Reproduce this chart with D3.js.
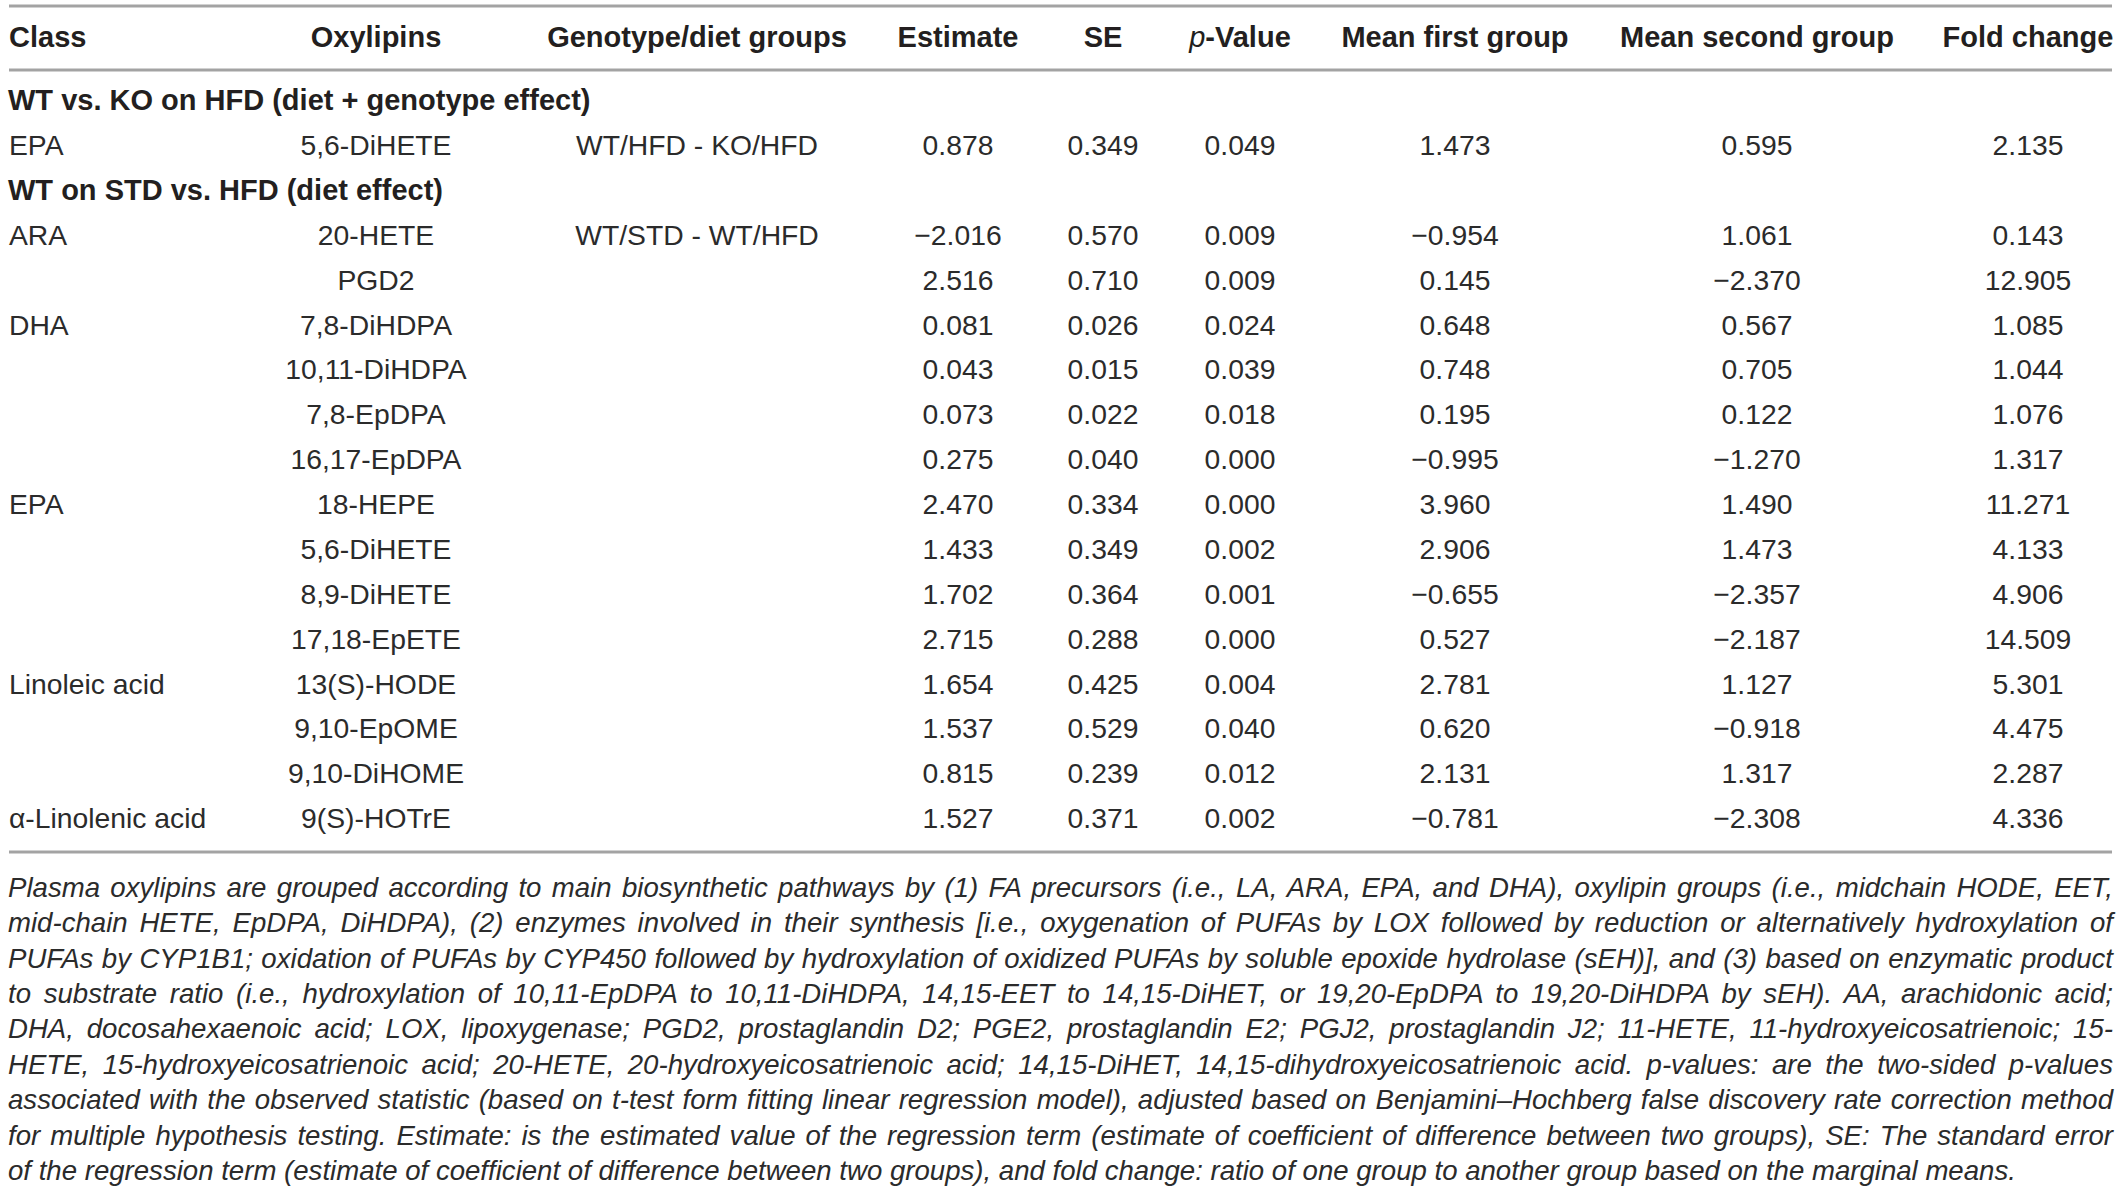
<!DOCTYPE html>
<html>
<head>
<meta charset="utf-8">
<script src="https://cdn.jsdelivr.net/npm/d3@7/dist/d3.min.js"></script>
<style>
  body { margin: 0; background: #fff; }
  text { font-family: "Liberation Sans", Arial, Helvetica, sans-serif; fill: #231f20; }
</style>
</head>
<body>
<div id="chart"></div>
<script>
const WIDTH = 2124;
const HEIGHT = 1196;

// Table content.
const headers = ["Class", "Oxylipins", "Genotype/diet groups", "Estimate", "SE", "p-Value",
                 "Mean first group", "Mean second group", "Fold change"];
const sectionTitles = ["WT vs. KO on HFD (diet + genotype effect)", "WT on STD vs. HFD (diet effect)"];
const sectionOf = [0, 1, 1, 1, 1, 1, 1, 1, 1, 1, 1, 1, 1, 1, 1];
const classes = ["EPA", "ARA", "", "DHA", "", "", "", "EPA", "", "", "", "Linoleic acid", "", "", "α-Linolenic acid"];
const oxylipins = ["5,6-DiHETE", "20-HETE", "PGD2", "7,8-DiHDPA", "10,11-DiHDPA", "7,8-EpDPA", "16,17-EpDPA",
                   "18-HEPE", "5,6-DiHETE", "8,9-DiHETE", "17,18-EpETE", "13(S)-HODE", "9,10-EpOME",
                   "9,10-DiHOME", "9(S)-HOTrE"];
const groups = ["WT/HFD - KO/HFD", "WT/STD - WT/HFD", "", "", "", "", "", "", "", "", "", "", "", "", ""];
const estimates = [0.878, -2.016, 2.516, 0.081, 0.043, 0.073, 0.275, 2.470, 1.433, 1.702, 2.715, 1.654, 1.537, 0.815, 1.527];
const stdErrors = [0.349, 0.570, 0.710, 0.026, 0.015, 0.022, 0.040, 0.334, 0.349, 0.364, 0.288, 0.425, 0.529, 0.239, 0.371];
const pValues = [0.049, 0.009, 0.009, 0.024, 0.039, 0.018, 0.000, 0.000, 0.002, 0.001, 0.000, 0.004, 0.040, 0.012, 0.002];
const meanFirst = [1.473, -0.954, 0.145, 0.648, 0.748, 0.195, -0.995, 3.960, 2.906, -0.655, 0.527, 2.781, 0.620, 2.131, -0.781];
const meanSecond = [0.595, 1.061, -2.370, 0.567, 0.705, 0.122, -1.270, 1.490, 1.473, -2.357, -2.187, 1.127, -0.918, 1.317, -2.308];
const foldChange = [2.135, 0.143, 12.905, 1.085, 1.044, 1.076, 1.317, 11.271, 4.133, 4.906, 14.509, 5.301, 4.475, 2.287, 4.336];

const footnoteLines = [
  "Plasma oxylipins are grouped according to main biosynthetic pathways by (1) FA precursors (i.e., LA, ARA, EPA, and DHA), oxylipin groups (i.e., midchain HODE, EET,",
  "mid-chain HETE, EpDPA, DiHDPA), (2) enzymes involved in their synthesis [i.e., oxygenation of PUFAs by LOX followed by reduction or alternatively hydroxylation of",
  "PUFAs by CYP1B1; oxidation of PUFAs by CYP450 followed by hydroxylation of oxidized PUFAs by soluble epoxide hydrolase (sEH)], and (3) based on enzymatic product",
  "to substrate ratio (i.e., hydroxylation of 10,11-EpDPA to 10,11-DiHDPA, 14,15-EET to 14,15-DiHET, or 19,20-EpDPA to 19,20-DiHDPA by sEH). AA, arachidonic acid;",
  "DHA, docosahexaenoic acid; LOX, lipoxygenase; PGD2, prostaglandin D2; PGE2, prostaglandin E2; PGJ2, prostaglandin J2; 11-HETE, 11-hydroxyeicosatrienoic; 15-",
  "HETE, 15-hydroxyeicosatrienoic acid; 20-HETE, 20-hydroxyeicosatrienoic acid; 14,15-DiHET, 14,15-dihydroxyeicosatrienoic acid. p-values: are the two-sided p-values",
  "associated with the observed statistic (based on t-test form fitting linear regression model), adjusted based on Benjamini–Hochberg false discovery rate correction method",
  "for multiple hypothesis testing. Estimate: is the estimated value of the regression term (estimate of coefficient of difference between two groups), SE: The standard error",
  "of the regression term (estimate of coefficient of difference between two groups), and fold change: ratio of one group to another group based on the marginal means."
];

// Layout.
const LEFT = 9, RIGHT = 2112;
const COL_X = [LEFT, 376, 697, 958, 1103, 1240, 1455, 1757, 2028];
const HEADER_Y = 37;
const LINES_Y = [6, 70, 852];
const BODY_SIZE = 28.3, HEAD_SIZE = 29, NOTE_SIZE = 27.6;

const fmt = v => d3.format(".3f")(v).replace("-", "\u2013");

// Build display rows: section titles interleaved with data rows.
var rows = [];
sectionOf.forEach(function (s, i) {
  if (i === 0 || sectionOf[i - 1] !== s) rows.push({type: "section", title: sectionTitles[s]});
  rows.push({type: "data", cells: [classes[i], oxylipins[i], groups[i], fmt(estimates[i]), fmt(stdErrors[i]),
                                   fmt(pValues[i]), fmt(meanFirst[i]), fmt(meanSecond[i]), fmt(foldChange[i])]});
});

var y = d3.scaleLinear().domain([0, rows.length - 1]).range([100, 818]);
var noteY = d3.scaleLinear().domain([0, footnoteLines.length - 1]).range([887, 1170]);

var svg = d3.select("#chart").append("svg")
            .attr("width", WIDTH)
            .attr("height", HEIGHT);

svg.append("rect").attr("width", WIDTH).attr("height", HEIGHT).attr("fill", "#fff");

// Rules.
svg.selectAll("line.rule")
   .data(LINES_Y)
   .enter()
   .append("line")
   .attr("class", "rule")
   .attr("x1", LEFT).attr("x2", RIGHT)
   .attr("y1", d => d).attr("y2", d => d)
   .attr("stroke", "#a3a3a3")
   .attr("stroke-width", 3);

// Header.
var head = svg.append("g").attr("font-size", HEAD_SIZE).attr("font-weight", "bold");
headers.forEach(function (h, j) {
  var t = head.append("text")
              .attr("x", COL_X[j])
              .attr("y", HEADER_Y)
              .attr("dy", "0.36em")
              .attr("text-anchor", j === 0 ? "start" : "middle");
  if (h.startsWith("p-")) {
    t.append("tspan").attr("font-style", "italic").attr("font-weight", "normal").text("p");
    t.append("tspan").text(h.slice(1));
  } else {
    t.text(h);
  }
});

// Body rows.
var body = svg.append("g");
rows.forEach(function (r, i) {
  if (r.type === "section") {
    body.append("text")
        .attr("x", LEFT - 1)
        .attr("y", y(i))
        .attr("dy", "0.36em")
        .attr("font-size", HEAD_SIZE)
        .attr("font-weight", "bold")
        .text(r.title);
  } else {
    body.selectAll(null)
        .data(r.cells)
        .enter()
        .append("text")
        .attr("x", (d, j) => COL_X[j])
        .attr("y", y(i))
        .attr("dy", "0.36em")
        .attr("font-size", BODY_SIZE)
        .attr("text-anchor", (d, j) => j === 0 ? "start" : "middle")
        .style("fill", "#2b2b2b")
        .text(d => d);
  }
});

// Footnote, justified.
var notes = svg.append("g")
               .attr("font-size", NOTE_SIZE)
               .attr("font-style", "italic");

notes.selectAll("text")
     .data(footnoteLines)
     .enter()
     .append("text")
     .attr("x", LEFT - 1)
     .attr("y", (d, i) => noteY(i))
     .attr("dy", "0.36em")
     .style("fill", "#2b2b2b")
     .text(d => d)
     .each(function (d, i) {
       if (i === footnoteLines.length - 1) return;
       var natural = this.getComputedTextLength();
       var spaces = d.split(" ").length - 1;
       var extra = (RIGHT + 2 - LEFT - natural) / spaces;
       d3.select(this).attr("word-spacing", extra);
     });
</script>
</body>
</html>
